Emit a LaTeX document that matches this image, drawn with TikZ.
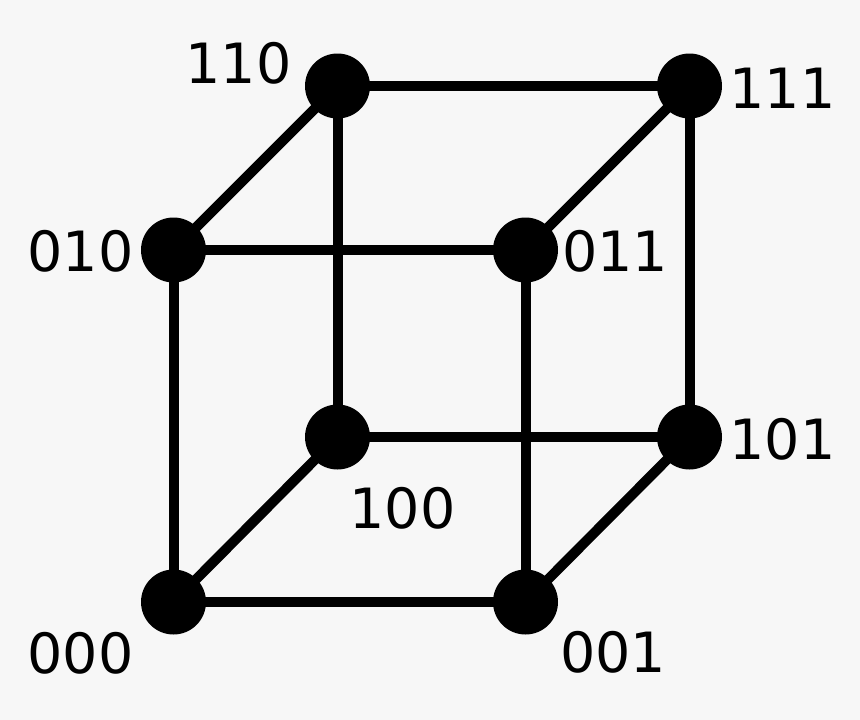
\documentclass[tikz,border=0pt]{standalone}
\usepackage{fontspec}
\setmainfont{DejaVu Sans}
\definecolor{bgc}{HTML}{F7F7F7}
\tikzset{
 vertex/.style={circle,fill=black,draw=none,minimum size=65pt,inner sep=0pt},
 edge/.style={line width=10pt,black},
 lab/.style={font=\fontsize{55.5}{55.5}\selectfont,inner sep=0pt,text=black}
}
\begin{document}
\begin{tikzpicture}[x=1pt,y=-1pt]
\fill[bgc] (0,0) rectangle (860,720);
\useasboundingbox (0,0) rectangle (860,720);
\node[vertex] (n110) at (337.5,86) {};
\node[vertex] (n111) at (689.5,86) {};
\node[vertex] (n010) at (173.5,250) {};
\node[vertex] (n011) at (525.5,250) {};
\node[vertex] (n100) at (337.5,437) {};
\node[vertex] (n101) at (689.5,437) {};
\node[vertex] (n000) at (173.5,602) {};
\node[vertex] (n001) at (525.5,602) {};
\foreach \a/\b in {n110/n111,n110/n010,n110/n100,n111/n011,n111/n101,n010/n011,n010/n000,n011/n001,n100/n101,n100/n000,n101/n001,n000/n001}
  \draw[edge] (\a.center) -- (\b.center);
\node[lab] (l110) at (238.5,63) {110};
\node[lab] (l111) at (782.5,88) {111};
\node[lab] (l010) at (80.5,251) {010};
\node[lab] (l011) at (615,251) {011};
\node[lab] (l101) at (782.5,439) {101};
\node[lab] (l100) at (402.5,508) {100};
\node[lab] (l000) at (80.5,653) {000};
\node[lab] (l001) at (613,652) {001};
\end{tikzpicture}
\end{document}
